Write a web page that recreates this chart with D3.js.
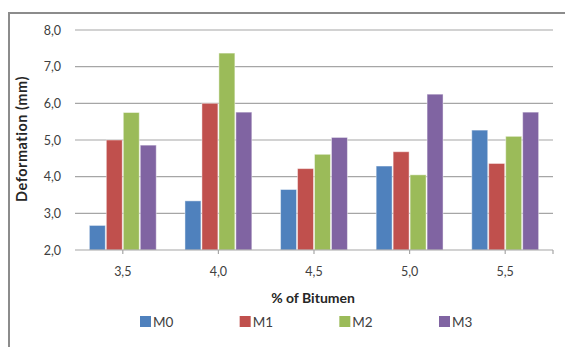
<!DOCTYPE html>
<html><head><meta charset="utf-8">
<script src="https://cdn.jsdelivr.net/npm/d3@7"></script>
<style>body{margin:0;background:#fff;}svg{display:block;font-family:Lato,"Open Sans",sans-serif;}</style>
</head><body>
<svg id="c" width="565" height="347"></svg>
<script>
const categories = ["3,5","4,0","4,5","5,0","5,5"];
const seriesNames = ["M0","M1","M2","M3"];
const M0 = [2.67, 3.34, 3.65, 4.29, 5.27];
const M1 = [5.00, 6.00, 4.22, 4.68, 4.36];
const M2 = [5.75, 7.37, 4.61, 4.05, 5.10];
const M3 = [4.86, 5.76, 5.07, 6.25, 5.76];
const yTicks = [2,3,4,5,6,7,8];
const colors = ["#4F81BD","#C0504D","#9BBB59","#8064A2"];
const values = [M0,M1,M2,M3];

(function(){
const svg = d3.select("#c");
svg.append("rect").attr("x",9).attr("y",13).attr("width",600).attr("height",400)
  .attr("fill","none").attr("stroke","#8c8c8c").attr("stroke-width",2);

const pL=75, pR=553, pT=30, pB=250;
const x = d3.scaleBand().domain(categories).range([pL,pR]).paddingInner(0.29).paddingOuter(0.145);
const xFull = d3.scaleBand().domain(categories).range([pL,pR]);
const xs = d3.scaleBand().domain(seriesNames).range([0,x.bandwidth()]);
const y = d3.scaleLinear().domain([2,8]).range([pB,pT]);

svg.append("g").selectAll("line").data(yTicks.slice(1)).join("line")
  .attr("x1",pL).attr("x2",pR).attr("y1",d=>y(d)).attr("y2",d=>y(d))
  .attr("stroke","#a6a6a6").attr("stroke-width",1.2);

svg.append("g").selectAll("text").data(yTicks).join("text")
  .attr("x",61).attr("y",d=>y(d)+4.5).attr("text-anchor","end")
  .attr("font-size",12.5).attr("fill","#404040")
  .text(d=>d3.format(".1f")(d).replace(".",","));

const g = svg.append("g");
seriesNames.forEach((s,i)=>{
  g.append("g").selectAll("rect").data(categories).join("rect")
    .attr("x",(c)=>x(c)+xs(s)+0.5)
    .attr("y",(c,j)=>y(values[i][j]))
    .attr("width",xs.bandwidth()-1)
    .attr("height",(c,j)=>y(2)-y(values[i][j]))
    .attr("fill",colors[i])
    .attr("stroke","rgba(255,255,255,0.45)").attr("stroke-width",1);
});

svg.append("line").attr("x1",pL).attr("x2",pR).attr("y1",pB).attr("y2",pB)
  .attr("stroke","#a6a6a6").attr("stroke-width",1.2);
const tickXs = categories.map(c=>xFull(c)+xFull.bandwidth()/2).concat([pR]);
svg.append("g").selectAll("line").data(tickXs).join("line")
  .attr("x1",d=>d).attr("x2",d=>d).attr("y1",pB).attr("y2",pB+4)
  .attr("stroke","#a6a6a6").attr("stroke-width",1.2);

svg.append("g").selectAll("text").data(categories).join("text")
  .attr("x",c=>xFull(c)+xFull.bandwidth()/2).attr("y",276).attr("text-anchor","middle")
  .attr("font-size",12.5).attr("fill","#404040").text(c=>c);

svg.append("text").attr("x",313).attr("y",303).attr("text-anchor","middle")
  .attr("font-size",14).attr("font-weight","bold").attr("fill","#262626").text("% of Bitumen");
svg.append("text").attr("transform","translate(27,139) rotate(-90)").attr("text-anchor","middle")
  .attr("font-size",14.5).attr("font-weight","bold").attr("letter-spacing",0.5).attr("fill","#262626").text("Deformation (mm)");

const lg = svg.append("g");
const lx = d3.scalePoint().domain(seriesNames).range([140,439]);
seriesNames.forEach((s,i)=>{
  lg.append("rect").attr("x",lx(s)).attr("y",316).attr("width",11).attr("height",11).attr("fill",colors[i]);
  lg.append("text").attr("x",lx(s)+13).attr("y",327).attr("font-size",13.5).attr("fill","#404040").text(s);
});
})();
</script>
</body></html>
